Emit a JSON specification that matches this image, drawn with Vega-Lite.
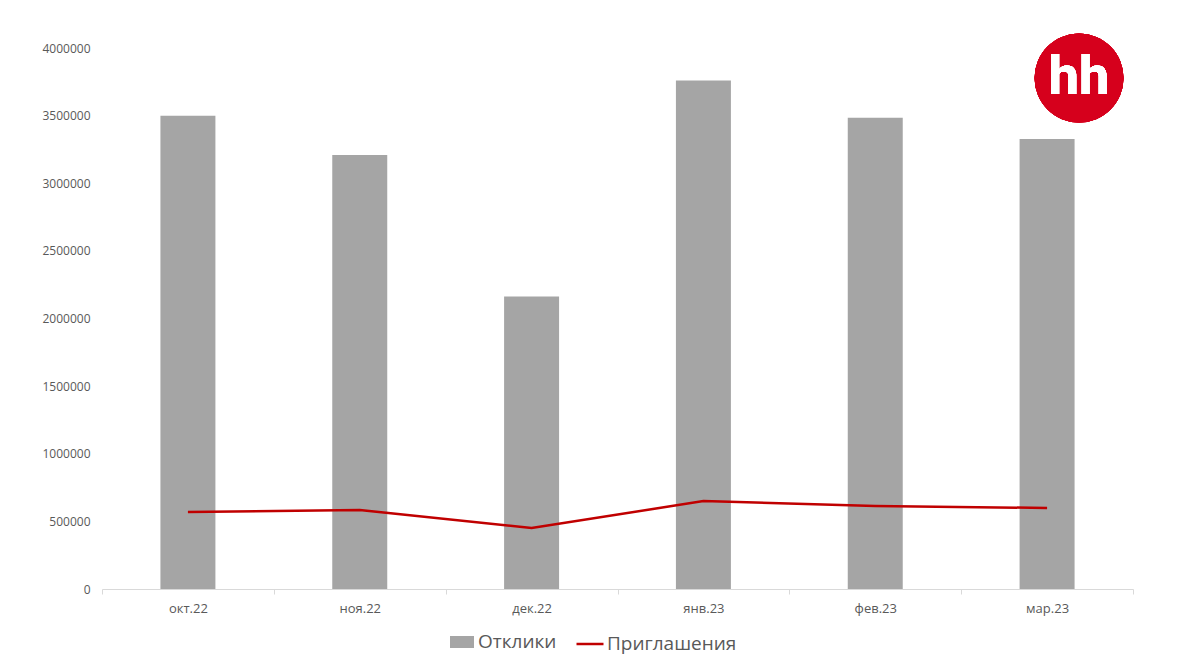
{
  "$schema": "https://vega.github.io/schema/vega-lite/v6.json",
  "width": 1031,
  "height": 541,
  "autosize": {"type": "none"},
  "padding": {"left": 102, "top": 48, "right": 67, "bottom": 83},
  "background": "white",
  "config": {
    "view": {"stroke": null},
    "font": "Open Sans",
    "axis": {"labelFont": "Open Sans", "labelColor": "#595959", "labelFontSize": 12, "grid": false, "title": null},
    "legend": {"labelFont": "Open Sans", "labelColor": "#595959", "labelFontSize": 19, "title": null, "padding": 0, "orient": "none"}
  },
  "data": {
    "values": [
      {"month": "окт.22", "Отклики": 3500000, "Приглашения": 569000},
      {"month": "ноя.22", "Отклики": 3209000, "Приглашения": 584000},
      {"month": "дек.22", "Отклики": 2162000, "Приглашения": 451000},
      {"month": "янв.23", "Отклики": 3760000, "Приглашения": 650000},
      {"month": "фев.23", "Отклики": 3485000, "Приглашения": 614000},
      {"month": "мар.23", "Отклики": 3327000, "Приглашения": 599000}
    ]
  },
  "layer": [
    {
      "mark": {"type": "bar", "width": {"band": 0.32}},
      "encoding": {
        "x": {
          "field": "month", "type": "nominal", "sort": null,
          "scale": {"padding": 0},
          "axis": {"labelAngle": 0, "labelFontSize": 13, "domainColor": "#D9D9D9", "tickColor": "#D9D9D9", "tickSize": 5, "tickBand": "extent", "labelPadding": 8}
        },
        "y": {
          "field": "Отклики", "type": "quantitative",
          "scale": {"domain": [0, 4000000], "nice": false},
          "axis": {"values": [0, 500000, 1000000, 1500000, 2000000, 2500000, 3000000, 3500000, 4000000], "format": "d", "domain": false, "ticks": false, "labelPadding": 12}
        },
        "color": {
          "datum": "Отклики",
          "scale": {"domain": ["Отклики"], "range": ["#A5A5A5"]},
          "legend": {"legendX": 347, "legendY": 581, "symbolType": "M-1,-0.5H1V0.5H-1Z", "symbolSize": 576, "labelOffset": 3}
        }
      }
    },
    {
      "mark": {"type": "line", "strokeWidth": 2.5},
      "encoding": {
        "x": {"field": "month", "type": "nominal", "sort": null},
        "y": {"field": "Приглашения", "type": "quantitative"},
        "stroke": {
          "datum": "Приглашения",
          "scale": {"domain": ["Приглашения"], "range": ["#C00000"]},
          "legend": {"legendX": 473, "legendY": 581, "symbolType": "stroke", "symbolSize": 729, "symbolStrokeWidth": 2.5, "labelOffset": 2}
        }
      }
    },
    {
      "mark": {"type": "point", "filled": true, "shape": "circle", "size": 7921, "opacity": 1, "color": "#D6001C"},
      "encoding": {
        "x": {"datum": "мар.23", "type": "nominal", "bandPosition": 0.686},
        "y": {"datum": 3778000, "type": "quantitative"}
      }
    },
    {
      "mark": {"type": "text", "text": "hh", "font": "Roboto", "fontWeight": "bold", "fontSize": 54, "color": "white", "dy": 0, "baseline": "middle", "align": "center"},
      "encoding": {
        "x": {"datum": "мар.23", "type": "nominal", "bandPosition": 0.686},
        "y": {"datum": 3778000, "type": "quantitative"}
      }
    }
  ]
}
